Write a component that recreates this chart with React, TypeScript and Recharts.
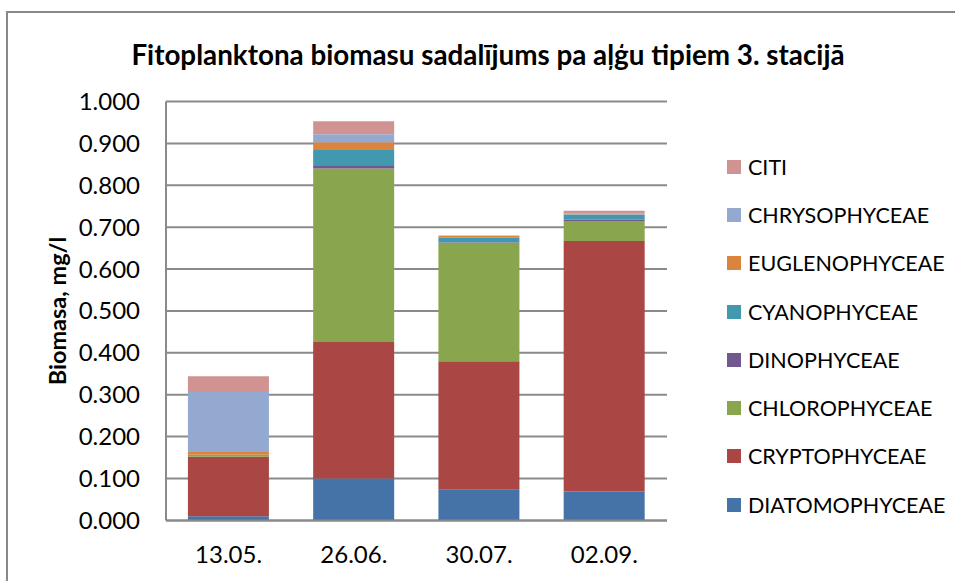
import React from 'react';
import { BarChart, Bar, XAxis, YAxis, CartesianGrid, Legend, Label } from 'recharts';

const dates = ['13.05.', '26.06.', '30.07.', '02.09.'];

const diatomophyceae = [0.010, 0.100, 0.073, 0.069];
const cryptophyceae = [0.142, 0.326, 0.307, 0.598];
const chlorophyceae = [0.004, 0.414, 0.283, 0.048];
const dinophyceae = [0.000, 0.006, 0.001, 0.003];
const cyanophyceae = [0.001, 0.038, 0.011, 0.012];
const euglenophyceae = [0.006, 0.019, 0.004, 0.001];
const chrysophyceae = [0.146, 0.019, 0.000, 0.002];
const citi = [0.035, 0.031, 0.001, 0.006];

const yTicks = [0, 0.1, 0.2, 0.3, 0.4, 0.5, 0.6, 0.7, 0.8, 0.9, 1.0];

const series = [
  { key: 'DIATOMOPHYCEAE', values: diatomophyceae, color: '#4572A7' },
  { key: 'CRYPTOPHYCEAE', values: cryptophyceae, color: '#AA4643' },
  { key: 'CHLOROPHYCEAE', values: chlorophyceae, color: '#89A54E' },
  { key: 'DINOPHYCEAE', values: dinophyceae, color: '#71588F' },
  { key: 'CYANOPHYCEAE', values: cyanophyceae, color: '#4198AF' },
  { key: 'EUGLENOPHYCEAE', values: euglenophyceae, color: '#DB843D' },
  { key: 'CHRYSOPHYCEAE', values: chrysophyceae, color: '#93A9CF' },
  { key: 'CITI', values: citi, color: '#D19392' },
];

const data = dates.map((date, i) => {
  const row: any = { date };
  series.forEach((s) => { row[s.key] = s.values[i]; });
  return row;
});

const FONT = 'Lato, "Open Sans", sans-serif';
const GRID = '#8a8a8a';

function LegendBox() {
  return (
    <div style={{ fontFamily: FONT }}>
      {[...series].reverse().map((s) => (
        <div key={s.key} style={{ display: 'flex', alignItems: 'center', height: 48.3, whiteSpace: 'nowrap' }}>
          <span style={{ width: 14, height: 14, background: s.color, marginRight: 7, display: 'inline-block', flexShrink: 0 }} />
          <span style={{ fontSize: 21.5, color: '#000' }}>{s.key}</span>
        </div>
      ))}
    </div>
  );
}

function YLabel(props: any) {
  const { viewBox } = props;
  const cx = viewBox.x + 57;
  const cy = viewBox.y + viewBox.height / 2;
  return (
    <text x={cx} y={cy} transform={`rotate(-90, ${cx}, ${cy})`} textAnchor="middle" dominantBaseline="central"
      fontFamily={FONT} fontWeight="bold" fontSize={23.5} fill="#000">
      Biomasa, mg/l
    </text>
  );
}

export default function App() {
  return (
    <div style={{ position: 'fixed', left: 0, top: 0, width: 955, height: 581, overflow: 'hidden', background: '#fff' }}>
      <div style={{ position: 'absolute', left: 6, top: 11, width: 1200, height: 1200, borderLeft: '2px solid #888', borderTop: '2px solid #888' }} />
      <div style={{ position: 'absolute', left: 0, width: 976, top: 38, textAlign: 'center', fontFamily: FONT, fontWeight: 'bold', fontSize: 27.8, color: '#000' }}>
        Fitoplanktona biomasu sadalījums pa aļģu tipiem 3. stacijā
      </div>
      <div style={{ position: 'absolute', left: 0, top: 0 }}>
        <BarChart width={955} height={581} data={data} margin={{ top: 101.5, right: 288, left: 0, bottom: 30.6 }} barCategoryGap="17.5%">
          <CartesianGrid vertical={false} stroke={GRID} strokeWidth={2} />
          <XAxis dataKey="date" height={30} axisLine={{ stroke: GRID, strokeWidth: 2 }} tickLine={false} tickMargin={20}
            tick={{ fill: '#000', fontSize: 24, fontFamily: FONT }} />
          <YAxis width={166} domain={[0, 1]} ticks={yTicks} interval={0} axisLine={{ stroke: GRID, strokeWidth: 2 }} tickLine={false} tickMargin={20}
            tick={{ fill: '#000', fontSize: 24, fontFamily: FONT }} tickFormatter={(v: number) => v.toFixed(3)}>
            <Label content={<YLabel />} />
          </YAxis>
          <Legend layout="horizontal" verticalAlign="middle" align="center" content={<LegendBox />}
            wrapperStyle={{ position: 'absolute', left: 727, top: 142.5, width: 240 }} />
          {series.map((s) => (
            <Bar key={s.key} dataKey={s.key} stackId="a" fill={s.color} isAnimationActive={false} />
          ))}
        </BarChart>
      </div>
    </div>
  );
}
